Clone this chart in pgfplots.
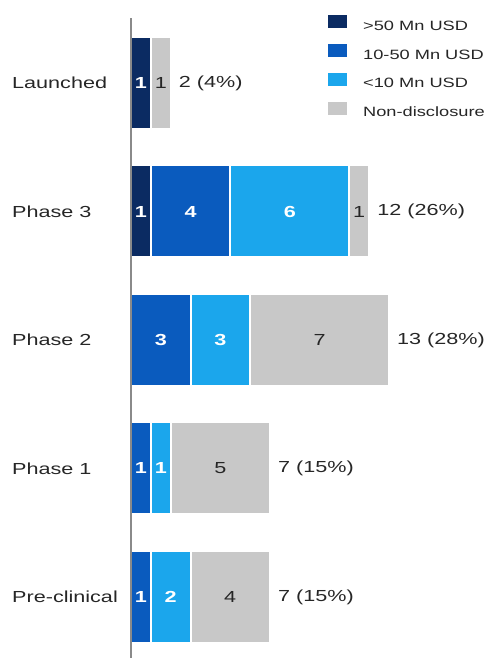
\documentclass[border=0pt]{standalone}
\usepackage{pgfplots}
\pgfplotsset{compat=1.18}
\usepackage{graphicx}
\usepackage{fontspec}
\setmainfont{Liberation Sans}
\definecolor{cNavy}{HTML}{0B2B62}
\definecolor{cMed}{HTML}{0A5BBE}
\definecolor{cLight}{HTML}{1BA6EC}
\definecolor{cGrey}{HTML}{C8C8C8}
\definecolor{cAxis}{HTML}{8A8A8A}
\newcommand{\sx}[1]{\scalebox{1.35}[1]{#1}}
\newcommand{\nz}{\pgfmathfloatifflags{\pgfplotspointmeta}{0}{}{\sx{\pgfmathprintnumber[assume math mode=true]{\pgfplotspointmeta}}}}
\pgfplotsset{
  common/.style={
    at={(131pt,0pt)}, anchor=south west,
    scale only axis, width=359pt, height=640pt,
    xmin=0, xmax=18.09, ymin=-0.475, ymax=4.506,
    /pgf/number format/assume math mode=true,
  }
}
\begin{document}
\begin{tikzpicture}
\useasboundingbox (0,0) rectangle (490pt,658pt);
\begin{axis}[
  common,
  xbar stacked, bar width=92pt,
  axis y line=left, axis x line=none,
  y axis line style={draw=cAxis, line width=1.6pt, -},
  axis on top,
  xtick=\empty,
  ytick={0,1,2,3,4},
  yticklabels={{\sx{Pre-clinical}},{\sx{Phase 1}},{\sx{Phase 2}},{\sx{Phase 3}},{\sx{Launched}}},
  major tick length=0pt,
  yticklabel style={anchor=west, inner sep=0pt, xshift=-119pt, font=\fontsize{16}{18}\selectfont, text=black!85},
  legend style={at={(0.5487,1.0044)}, anchor=north west, draw=none, fill=none, inner sep=0pt,
    nodes={inner sep=0pt, text height=10pt, text depth=3pt},
    row sep=10.8pt, column sep=16pt, font=\fontsize{13.5}{15}\selectfont, text=black!85},
  legend cell align=left,
  legend image code/.code={\path[#1, draw=none] (0pt,-1.5pt) rectangle (19pt,11.5pt);},
]
\addplot[fill=cNavy, draw=white, line width=2pt, nodes near coords={\nz},
  every node near coord/.append style={text=white, font=\bfseries\fontsize{16}{18}\selectfont}]
  coordinates {(0,0) (0,1) (0,2) (1,3) (1,4)};
\addlegendentry{\sx{>50 Mn USD}}
\addplot[fill=cMed, draw=white, line width=2pt, nodes near coords={\nz},
  every node near coord/.append style={text=white, font=\bfseries\fontsize{16}{18}\selectfont}]
  coordinates {(1,0) (1,1) (3,2) (4,3) (0,4)};
\addlegendentry{\sx{10-50 Mn USD}}
\addplot[fill=cLight, draw=white, line width=2pt, nodes near coords={\nz},
  every node near coord/.append style={text=white, font=\bfseries\fontsize{16}{18}\selectfont}]
  coordinates {(2,0) (1,1) (3,2) (6,3) (0,4)};
\addlegendentry{\sx{<10 Mn USD}}
\addplot[fill=cGrey, draw=white, line width=2pt, nodes near coords={\nz},
  every node near coord/.append style={text=black!85, font=\fontsize{16}{18}\selectfont}]
  coordinates {(4,0) (5,1) (7,2) (1,3) (1,4)};
\addlegendentry{\sx{Non-disclosure}}
\end{axis}
\begin{axis}[
  common, hide axis, clip=false,
]
\addplot[draw=none, mark=none, point meta=explicit symbolic,
  nodes near coords={\sx{\pgfplotspointmeta}},
  every node near coord/.append style={anchor=west, inner sep=0pt, xshift=8pt, text=black!85, font=\fontsize{16}{18}\selectfont}]
  table[x=v, y=y, meta=lab, col sep=comma] {
y,v,lab
0,7,7 (15\%)
1,7,7 (15\%)
2,13,13 (28\%)
3,12,12 (26\%)
4,2,2 (4\%)
};
\end{axis}
\end{tikzpicture}
\end{document}
